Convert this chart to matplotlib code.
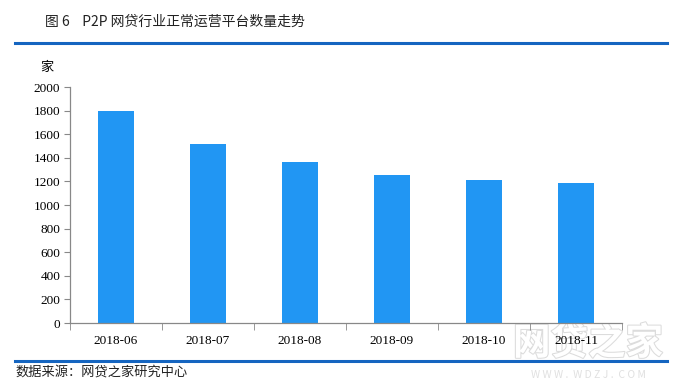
import matplotlib.pyplot as plt
import matplotlib.patheffects as pe

plt.rcParams['font.family'] = ['Noto Sans CJK SC', 'DejaVu Sans']

months = ['2018-06', '2018-07', '2018-08', '2018-09', '2018-10', '2018-11']
platforms = [1799, 1519, 1366, 1256, 1214, 1189]
yticks = list(range(0, 2001, 200))

fig = plt.figure(figsize=(6.79, 3.88), dpi=100)
ax = fig.add_axes([70 / 679, 1 - 323 / 388, 552 / 679, 236 / 388])

x = range(len(months))
ax.bar(x, platforms, width=0.4, color='#2196F3', zorder=2)

ax.set_xlim(-0.5, len(months) - 0.5)
ax.set_ylim(0, 2000)
ax.set_yticks(yticks)
ax.set_yticklabels([str(v) for v in yticks], family='Liberation Serif', fontsize=9.5)
ax.set_xticks(list(x))
ax.set_xticklabels(months, family='Liberation Serif', fontsize=9.5)
ax.set_xticks([i + 0.5 for i in range(-1, len(months))], minor=True)
ax.tick_params(axis='x', which='major', length=0, pad=9)
ax.tick_params(axis='x', which='minor', length=5, color='#888888', direction='out')
ax.tick_params(axis='y', length=4, color='#888888', direction='out', pad=3)
for s in ['top', 'right']:
    ax.spines[s].set_visible(False)
for s in ['left', 'bottom']:
    ax.spines[s].set_color('#888888')
    ax.spines[s].set_linewidth(0.9)

fig.text(47 / 679, 1 - 67 / 388, '家', fontsize=9.5, ha='center', va='center')
fig.text(45 / 679, 1 - 22 / 388, '图 6    P2P 网贷行业正常运营平台数量走势',
         fontsize=10, ha='left', va='center', color='#222222')
fig.add_artist(plt.Line2D([15 / 679, 667 / 679], [1 - 43 / 388] * 2,
                          color='#1565C0', lw=2.2, transform=fig.transFigure))
fig.add_artist(plt.Line2D([15 / 679, 667 / 679], [1 - 361 / 388] * 2,
                          color='#1565C0', lw=2.2, transform=fig.transFigure))
fig.text(15 / 679, 1 - 373 / 388, '数据来源：网贷之家研究中心',
         fontsize=9.5, ha='left', va='center', color='#222222')

# watermark, drawn beneath the axes so the tick labels show through
wm = fig.text(588 / 679, 1 - 343 / 388, '网贷之家', fontsize=27, ha='center', va='center',
              color='white', fontweight='bold', zorder=-1)
wm.set_path_effects([pe.withStroke(linewidth=1.5, foreground='#dcdcdc')])
fig.text(588 / 679, 1 - 375 / 388, 'W W W .  W D Z J .  C O M', fontsize=7.5,
         ha='center', va='center', color='#e0e0e0', zorder=-1)

fig.savefig('out.png', dpi=100)
